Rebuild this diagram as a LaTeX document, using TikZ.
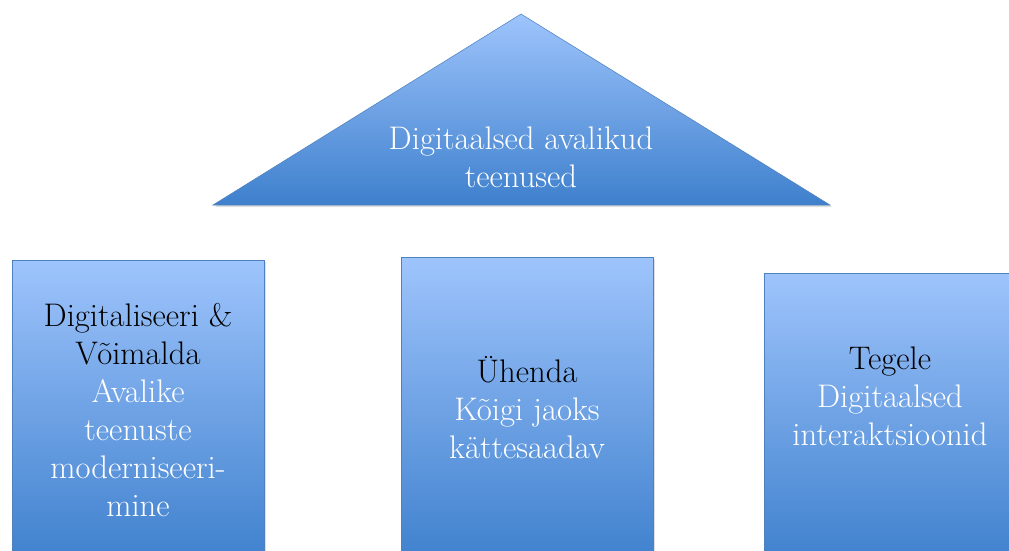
\documentclass[tikz,border=0pt]{standalone}
\usepackage{fontspec}
\usetikzlibrary{shadows}
\definecolor{pillartop}{RGB}{158,196,252}
\definecolor{pillarbottom}{RGB}{62,128,205}
\definecolor{pillarline}{RGB}{79,129,189}
\tikzset{
    pillar/.style={draw=pillarline, top color=pillartop, bottom color=pillarbottom,
        drop shadow={shadow xshift=1.5pt, shadow yshift=-1.5pt, opacity=0.25}},
    label/.style={align=center, font=\fontsize{24.5}{28.5}\selectfont}
}
\begin{document}
\begin{tikzpicture}[x=0.75pt, y=-0.75pt]
    \useasboundingbox (0, 0) rectangle (1009, 550);
    \clip (0, 0) rectangle (1009, 550);
    \shade[pillar] (213, 205) -- (521, 14) -- (830, 205) -- cycle;
    \shade[pillar] (12, 260) rectangle (264, 565);
    \shade[pillar] (401, 257) rectangle (653, 565);
    \shade[pillar] (764, 273) rectangle (1040, 565);
    \node[label, text=white] (roof) at(521, 157) {Digitaalsed avalikud\\teenused};
    \node[label] (digitize) at(138, 410) {Digitaliseeri \&\\Võimalda\\
        \textcolor{white}{Avalike}\\\textcolor{white}{teenuste}\\
        \textcolor{white}{moderniseeri-}\\\textcolor{white}{mine}};
    \node[label] (connect) at(527, 408) {Ühenda\\
        \textcolor{white}{Kõigi jaoks}\\\textcolor{white}{kättesaadav}};
    \node[label] (engage) at(890, 396) {Tegele\\
        \textcolor{white}{Digitaalsed}\\\textcolor{white}{interaktsioonid}};
\end{tikzpicture}
\end{document}
